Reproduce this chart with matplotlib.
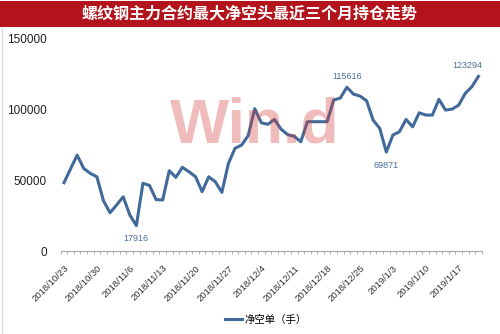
import numpy as np
from matplotlib import pyplot as plt
from matplotlib.patches import Rectangle
from matplotlib.lines import Line2D

# Rebar main contract: biggest net short holder, last three months

plt.rcParams['font.family'] = ['Liberation Sans', 'Noto Sans CJK SC', 'DejaVu Sans']

# trading days shown on the category axis
dates = ['2018/10/23', '2018/10/24', '2018/10/25', '2018/10/26', '2018/10/29',
         '2018/10/30', '2018/10/31', '2018/11/1', '2018/11/2', '2018/11/5',
         '2018/11/6', '2018/11/7', '2018/11/8', '2018/11/9', '2018/11/12',
         '2018/11/13', '2018/11/14', '2018/11/15', '2018/11/16', '2018/11/19',
         '2018/11/20', '2018/11/21', '2018/11/22', '2018/11/23', '2018/11/26',
         '2018/11/27', '2018/11/28', '2018/11/29', '2018/11/30', '2018/12/3',
         '2018/12/4', '2018/12/5', '2018/12/6', '2018/12/7', '2018/12/10',
         '2018/12/11', '2018/12/12', '2018/12/13', '2018/12/14', '2018/12/17',
         '2018/12/18', '2018/12/19', '2018/12/20', '2018/12/21', '2018/12/24',
         '2018/12/25', '2018/12/26', '2018/12/27', '2018/12/28', '2019/1/2',
         '2019/1/3', '2019/1/4', '2019/1/7', '2019/1/8', '2019/1/9',
         '2019/1/10', '2019/1/11', '2019/1/14', '2019/1/15', '2019/1/16',
         '2019/1/17', '2019/1/18', '2019/1/21', '2019/1/22']

# net short position (lots)
net_short = [48200, 58000, 67700, 58300, 54800, 52400, 35500, 27000, 32500, 38300,
             25500, 17916, 47800, 46300, 36300, 36000, 56700, 52000, 59100, 56000,
             52400, 41900, 52400, 48900, 41400, 61900, 72500, 74800, 81500, 100500,
             90500, 89500, 92900, 86000, 82200, 81000, 77100, 91300, 91300, 91300,
             91300, 106600, 108000, 115616, 110800, 109400, 106100, 92400, 86600, 69871,
             81900, 84200, 92900, 87700, 97600, 96000, 96000, 107100, 99500, 100200,
             103000, 111300, 116000, 123294]

yticks = [0, 50000, 100000, 150000]
label_step = 5

# which points get a value label, and where (offset in points)
marked = {11: (0, -9), 43: (0, 8), 49: (0, -10), 63: (-8, 8)}

blue = '#41699A'

fig = plt.figure(figsize=(5.0, 3.34), dpi=100)
ax = fig.add_axes([0.1214, 0.2485, 0.842, 0.636])

x = np.arange(len(dates))
ax.plot(x, net_short, color=blue, lw=2.2, solid_joinstyle='round', zorder=3)

for i, (dx, dy) in marked.items():
    ax.annotate(str(net_short[i]), (x[i], net_short[i]), xytext=(dx, dy),
                textcoords='offset points', ha='center', va='center',
                fontsize=6.5, color='#4A6F9C')

ax.set_xlim(-0.5, len(dates) - 0.5)
ax.set_ylim(0, 150000)
ax.set_yticks(yticks)
ax.set_yticklabels([str(v) for v in yticks], fontsize=8.5, color='#222222')
ax.tick_params(axis='y', length=0, pad=10)

ax.set_xticks(x[::label_step])
ax.set_xticklabels(dates[::label_step], rotation=45, ha='right',
                   rotation_mode='anchor', fontsize=6.8, color='#333333')
ax.set_xticks(np.arange(-0.5, len(dates)), minor=True)
ax.tick_params(axis='x', which='major', length=0, pad=9)
ax.tick_params(axis='x', which='minor', length=2.5, color='#A6A6A6', width=0.6)

for side in ['left', 'right', 'top']:
    ax.spines[side].set_visible(False)
ax.spines['bottom'].set_color('#A6A6A6')
ax.spines['bottom'].set_linewidth(0.8)

# Wind watermark sits on top, half transparent
fig.text(0.51, 1 - 126 / 334, 'Win.d', ha='center', va='center', fontsize=45,
         fontweight='bold', color='#D23C3C', alpha=0.35, zorder=10)

# title band
fig.patches.append(Rectangle((0, 1 - 27 / 334), 1, 26 / 334, transform=fig.transFigure,
                             facecolor='#B3141C', edgecolor='none'))
fig.text(0.5, 1 - 14 / 334, '螺纹钢主力合约最大净空头最近三个月持仓走势', ha='center',
         va='center', fontsize=11.5, fontweight='bold', color='white')

# thin frame line on the left edge
fig.add_artist(Line2D([0.003, 0.003], [0, 1 - 27 / 334], transform=fig.transFigure,
                      color='#D9D9D9', lw=1))

handle = Line2D([], [], color=blue, lw=2.2)
fig.legend([handle], ['净空单（手）'], loc='center', bbox_to_anchor=(266 / 500, 1 - 320 / 334),
           frameon=False, fontsize=7.5, handlelength=1.6, handletextpad=0.2)

plt.savefig('out.png', dpi=100)
